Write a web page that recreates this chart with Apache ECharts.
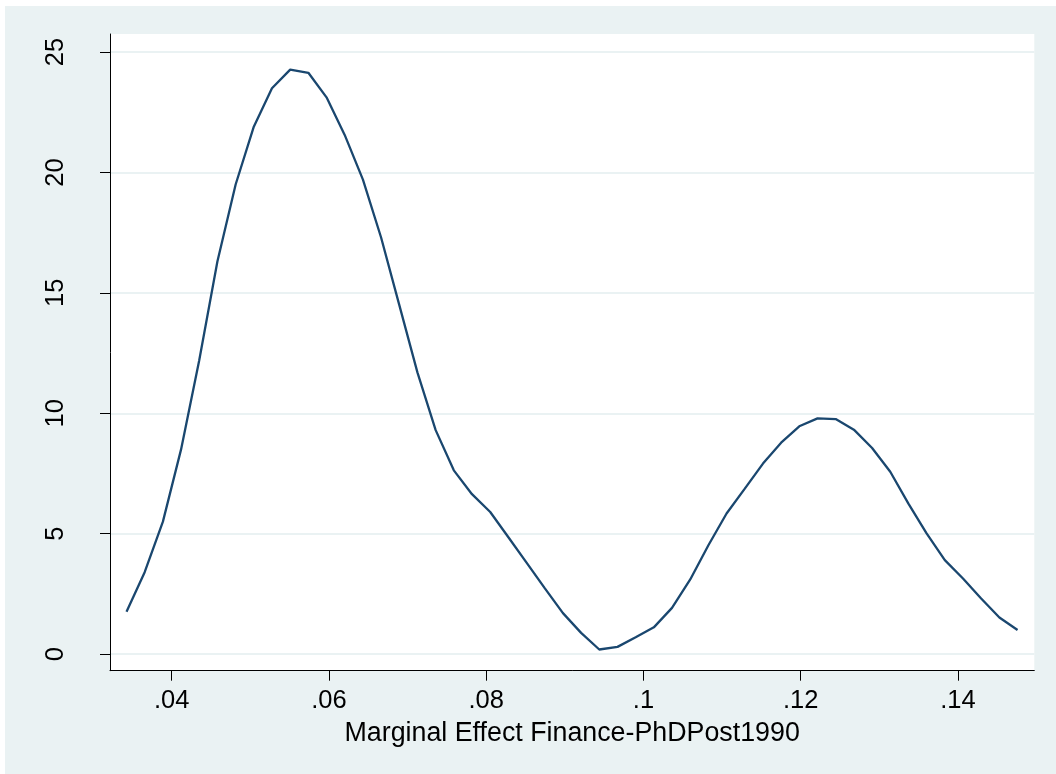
<!DOCTYPE html>
<html>
<head>
<meta charset="utf-8">
<script src="https://cdn.jsdelivr.net/npm/echarts@6/dist/echarts.min.js"></script>
<style>
html,body{margin:0;padding:0;background:#fff;width:1056px;height:774px;overflow:hidden;}
#chart{position:absolute;left:5px;top:6px;width:1051px;height:768px;}
</style>
</head>
<body>
<div id="chart"></div>
<script>
// Estimation points (x) of the kernel density
var xValues = [
  0.03425, 0.03656, 0.03888, 0.04119, 0.04350, 0.04581, 0.04813, 0.05044, 0.05275, 0.05507,
  0.05738, 0.05969, 0.06200, 0.06432, 0.06663, 0.06894, 0.07125, 0.07357, 0.07588, 0.07819,
  0.08051, 0.08282, 0.08513, 0.08744, 0.08976, 0.09207, 0.09438, 0.09670, 0.09901, 0.10132,
  0.10363, 0.10595, 0.10826, 0.11057, 0.11289, 0.11520, 0.11751, 0.11982, 0.12214, 0.12445,
  0.12676, 0.12908, 0.13139, 0.13370, 0.13601, 0.13833, 0.14064, 0.14295, 0.14527, 0.14758
];
// Density values
var densityValues = [
  1.76, 3.4, 5.5, 8.5, 12.2, 16.3, 19.5, 21.9, 23.5, 24.27,
  24.14, 23.12, 21.56, 19.7, 17.3, 14.5, 11.7, 9.3, 7.63, 6.64,
  5.9, 4.85, 3.8, 2.74, 1.7, 0.88, 0.19, 0.30, 0.70, 1.11,
  1.92, 3.1, 4.52, 5.84, 6.87, 7.91, 8.78, 9.46, 9.79, 9.76,
  9.32, 8.56, 7.57, 6.25, 5.01, 3.9, 3.14, 2.31, 1.52, 1.0
];
var xTicks = [0.04, 0.06, 0.08, 0.10, 0.12, 0.14];
var yTicks = [0, 5, 10, 15, 20, 25];
var xTitle = 'Marginal Effect Finance-PhDPost1990';

var points = xValues.map(function (x, i) { return [x, densityValues[i]]; });
var FONT = '"Liberation Sans", Arial, Helvetica, sans-serif';

var chart = echarts.init(document.getElementById('chart'), null, {renderer: 'canvas'});
chart.setOption({
  animation: false,
  backgroundColor: '#EAF2F3',
  textStyle: {fontFamily: FONT},
  grid: {
    left: 105, top: 28, right: 21.7, bottom: 103.3,
    show: true, backgroundColor: '#ffffff', borderWidth: 0
  },
  xAxis: {
    type: 'value',
    min: 0.03215, max: 0.14971,
    name: xTitle,
    nameLocation: 'middle',
    nameGap: 49,
    nameTextStyle: {fontSize: 26.8, color: '#000', fontFamily: FONT},
    axisLine: {show: true, onZero: false, lineStyle: {color: '#000', width: 1}},
    axisTick: {show: true, length: 10, inside: false, customValues: xTicks, lineStyle: {color: '#000', width: 1}},
    axisLabel: {
      show: true, margin: 17, fontSize: 25.5, color: '#000', fontFamily: FONT,
      customValues: xTicks,
      formatter: function (v) { return String(+v.toFixed(2)).replace(/^0/, ''); }
    },
    splitLine: {show: false}
  },
  yAxis: {
    type: 'value',
    min: -0.69, max: 25.75,
    axisLine: {show: true, onZero: false, lineStyle: {color: '#000', width: 1}},
    axisTick: {show: true, length: 10, inside: false, customValues: yTicks, lineStyle: {color: '#000', width: 1}},
    axisLabel: {
      show: true, rotate: 90, margin: 41, fontSize: 25.5, color: '#000', fontFamily: FONT,
      customValues: yTicks
    },
    splitLine: {show: true, lineStyle: {color: '#EAF2F3', width: 2}}
  },
  series: [{
    type: 'line',
    data: points,
    showSymbol: false,
    smooth: false,
    lineStyle: {color: '#1A476F', width: 2.3},
    itemStyle: {color: '#1A476F'}
  }]
});
</script>
</body>
</html>
